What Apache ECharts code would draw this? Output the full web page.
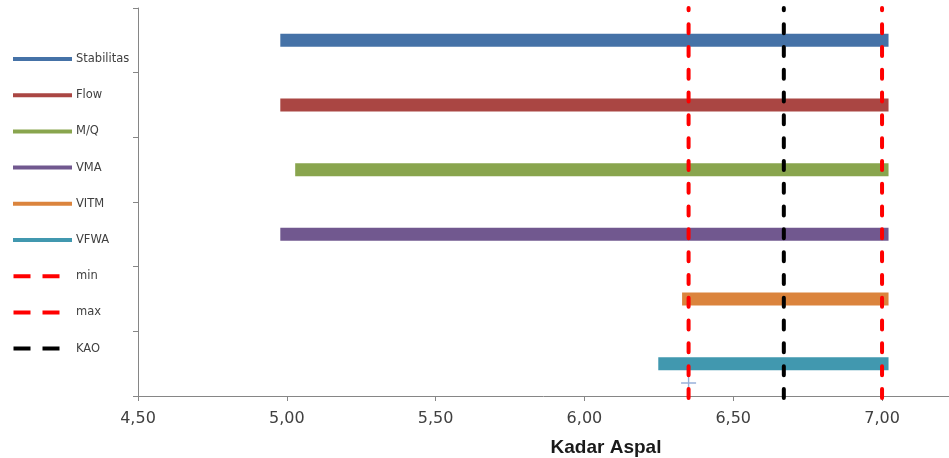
<!DOCTYPE html>
<html>
<head>
<meta charset="utf-8">
<script src="https://cdn.jsdelivr.net/npm/echarts@6/dist/echarts.min.js"></script>
<style>html,body{margin:0;padding:0;background:#fff}#c{width:949px;height:458px}</style>
</head>
<body>
<div id="c"></div>
<script>
// Data
const seriesNames = ['Stabilitas', 'Flow', 'M/Q', 'VMA', 'VITM', 'VFWA'];
const rangeStart = [5.00, 5.00, 5.05, 5.00, 6.35, 6.27];
const rangeEnd   = [7.00, 7.00, 7.00, 7.00, 7.00, 7.00];
const rowLevel   = [5.5, 4.5, 3.5, 2.5, 1.5, 0.5];
const limitNames = ['min', 'max', 'KAO'];
const limitValues = [6.35, 7.00, 6.67];
const limitSpan = [-0.03, 6];
const crossPoint = [6.35, 0.2];
const xTicks = [4.5, 5.0, 5.5, 6.0, 6.5, 7.0];

const barColors = ['#4572A7', '#AA4643', '#89A54E', '#71588F', '#DB843D', '#4198AF'];
const limitColors = ['#FF0000', '#FF0000', '#000000'];

const series = [];
seriesNames.forEach((n, i) => {
  series.push({
    name: n, type: 'line', symbol: 'none', silent: true, clip: false,
    data: [[rangeStart[i], rowLevel[i]], [rangeEnd[i], rowLevel[i]]],
    lineStyle: { color: barColors[i], width: 13, cap: 'square' },
    itemStyle: { color: barColors[i] }
  });
});
series.push({
  name: 'cross', type: 'scatter', silent: true,
  symbol: 'path://M6.8,0 L8.2,0 L8.2,6.8 L15,6.8 L15,8.2 L8.2,8.2 L8.2,15 L6.8,15 L6.8,8.2 L0,8.2 L0,6.8 L6.8,6.8 Z',
  symbolSize: 15,
  itemStyle: { color: '#7F9CCF' },
  data: [crossPoint]
});
limitNames.forEach((n, i) => {
  series.push({
    name: n, type: 'line', symbol: 'none', silent: true, clip: false,
    data: [[limitValues[i], limitSpan[0]], [limitValues[i], limitSpan[1]]],
    lineStyle: { color: limitColors[i], width: 4, type: [9, 13.8], cap: 'round' },
    itemStyle: { color: limitColors[i] }
  });
});

const solidIcon = 'rect';
const dashIcon = 'path://M0,0 L17,0 L17,4 L0,4 Z M29,0 L46,0 L46,4 L29,4 Z M58,0 L58,4';
const legendData = seriesNames.map(n => ({ name: n, icon: solidIcon }))
  .concat(limitNames.map(n => ({ name: n, icon: dashIcon })));

const chart = echarts.init(document.getElementById('c'), null, { renderer: 'canvas' });
chart.setOption({
  animation: false,
  backgroundColor: '#ffffff',
  grid: { left: 138, top: 8, bottom: 62, right: 0, containLabel: false, outerBoundsMode: 'none' },
  legend: {
    orient: 'vertical', left: 13, top: 53, padding: 0,
    itemWidth: 59, itemHeight: 4, itemGap: 24.2,
    selectedMode: false,
    textStyle: { fontFamily: 'DejaVu Sans', fontSize: 11.5, color: '#404040', padding: [0, 0, 0, -1] },
    data: legendData
  },
  xAxis: {
    type: 'value', min: 4.5, max: 7.225, interval: 0.5,
    axisLine: { show: true, onZero: false, lineStyle: { color: '#868686', width: 1 } },
    axisTick: { show: true, length: 5, lineStyle: { color: '#868686' } },
    splitLine: { show: false },
    axisLabel: {
      margin: 15,
      fontFamily: 'DejaVu Sans', fontSize: 16, color: '#404040',
      formatter: v => xTicks.some(t => Math.abs(t - v) < 1e-6) ? v.toFixed(2).replace('.', ',') : ''
    }
  },
  yAxis: {
    type: 'value', min: 0, max: 6, interval: 1,
    axisLine: { show: true, lineStyle: { color: '#868686', width: 1 } },
    axisTick: { show: true, length: 5, lineStyle: { color: '#868686' } },
    splitLine: { show: false },
    axisLabel: { show: false }
  },
  graphic: [{
    type: 'text', x: 606, y: 448,
    style: { text: 'Kadar Aspal', fontFamily: 'Liberation Sans', fontWeight: 'bold', fontSize: 19, fill: '#1a1a1a', align: 'center', verticalAlign: 'middle' }
  }],
  series: series
});
</script>
</body>
</html>
